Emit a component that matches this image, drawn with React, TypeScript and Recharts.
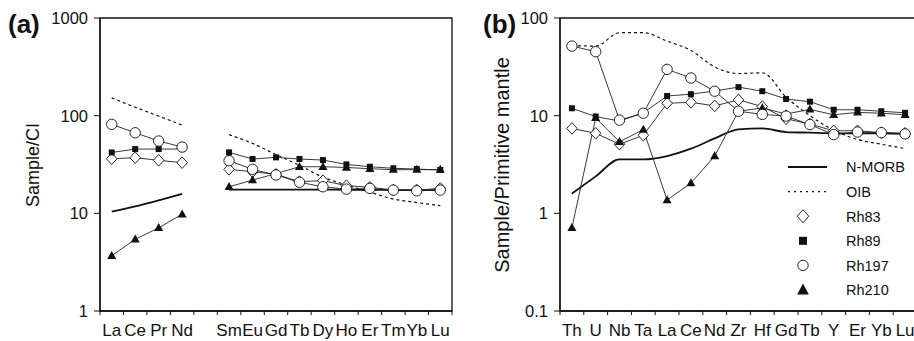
import React from "react";
import { LineChart, Line, XAxis, YAxis, ReferenceArea, Legend } from "recharts";

// (a) chondrite-normalised REE
const reeCats = ["La", "Ce", "Pr", "Nd", "", "Sm", "Eu", "Gd", "Tb", "Dy", "Ho", "Er", "Tm", "Yb", "Lu"];
const nmorbA = [10.4, 11.8, 13.6, 15.8, null, 17.5, 17.5, 17.5, 17.5, 17.5, 17.4, 17.4, 17.3, 17.3, 17.3];
const oibA = [152, 122, 99, 80, null, 64, 52, 40, 31, 23.5, 19.5, 16.5, 14, 12.9, 12.0];
const rh83A = [36.2, 37.1, 34.9, 33.0, null, 28.2, 26.7, 25.1, 21.1, 21.6, 19.2, 18.5, 17.3, 17.3, 18.0];
const rh89A = [42, 45.5, 45.5, 45.5, null, 42.1, 36, 37.4, 36, 35.1, 31.7, 30, 28.9, 28.4, 27.8];
const rh197A = [81.5, 66.8, 55, 47.7, null, 34.6, 28.2, 24.7, 20.8, 18.7, 17.7, 18.0, 17.3, 17.0, 17.3];
const rh210A = [3.68, 5.42, 7.1, 9.8, null, 18.7, 21.9, 25.5, 30, 30, 29.5, 28.6, 28, 28, 28];

// (b) primitive-mantle-normalised spider
const pmCats = ["Th", "U", "Nb", "Ta", "La", "Ce", "Nd", "Zr", "Hf", "Gd", "Tb", "Y", "Er", "Yb", "Lu"];
const nmorbB = [1.59, 2.39, 3.57, 3.57, 3.86, 4.59, 5.86, 7.24, 7.4, 6.8, 6.7, 6.6, 6.6, 6.6, 6.5];
const oibB = [52, 51.6, 70.7, 70.7, 58, 46.5, 31.5, 27, 27.5, 15.5, 10, 7.1, 5.7, 5.1, 4.6];
const rh83B = [7.4, 6.6, 5.1, 6.3, 13.4, 13.7, 12.6, 14.5, 12.4, 9.3, 8.2, 7.0, 7.0, 6.7, 6.6];
const rh89B = [11.9, 9.8, 8.8, 10.7, 15.9, 16.6, 17.9, 19.6, 17.8, 14.8, 13.9, 11.5, 11.5, 11.1, 10.7];
const rh197B = [51.6, 45.2, 9.0, 10.6, 29.8, 24.3, 17.8, 11.1, 10.3, 9.9, 8.1, 6.4, 6.8, 6.7, 6.5];
const rh210B = [0.71, 9.5, 5.4, 7.2, 1.37, 2.04, 3.86, 11.1, 12.0, 10.4, 11.6, 10.2, 10.8, 10.6, 10.2];

const yTicksA = [1, 10, 100, 1000];
const yTicksB = [0.1, 1, 10, 100];
const legendOrder = ["N-MORB", "OIB", "Rh83", "Rh89", "Rh197", "Rh210"];

const FONT = '"Liberation Sans", Arial, Helvetica, sans-serif';
const INK = "#111";

type Row = Record<string, number | null>;

function buildRows(n: number, series: Record<string, (number | null)[]>): Row[] {
  const rows: Row[] = [];
  for (let i = 0; i < n; i++) {
    const row: Row = { x: i + 0.5 };
    for (const k of Object.keys(series)) row[k] = series[k][i];
    rows.push(row);
  }
  return rows;
}

const rowsA = buildRows(reeCats.length, { nmorb: nmorbA, oib: oibA, rh83: rh83A, rh89: rh89A, rh197: rh197A, rh210: rh210A });
const rowsB = buildRows(pmCats.length, { nmorb: nmorbB, oib: oibB, rh83: rh83B, rh89: rh89B, rh197: rh197B, rh210: rh210B });

// marker shapes
function ok(p: any) {
  return p.value != null && Number.isFinite(p.cx) && Number.isFinite(p.cy);
}
function diamondPath(cx: number, cy: number, w: number, h: number) {
  return `M${cx},${cy - h}L${cx + w},${cy}L${cx},${cy + h}L${cx - w},${cy}Z`;
}
function trianglePath(cx: number, cy: number, w: number, h: number) {
  return `M${cx},${cy - h * 0.6}L${cx + w},${cy + h * 0.4}L${cx - w},${cy + h * 0.4}Z`;
}

const DiamondDot = (p: any) =>
  ok(p) ? <path key={`dia${p.index}`} d={diamondPath(p.cx, p.cy, 5.3, 5.8)} fill="#fff" stroke={INK} strokeWidth={0.9} /> : <g key={`dia${p.index}`} />;
const SquareDot = (p: any) =>
  ok(p) ? <rect key={`sq${p.index}`} x={p.cx - 3} y={p.cy - 3} width={6} height={6} fill={INK} /> : <g key={`sq${p.index}`} />;
const CircleDot = (p: any) =>
  ok(p) ? <circle key={`ci${p.index}`} cx={p.cx} cy={p.cy} r={5.2} fill="#fff" stroke={INK} strokeWidth={0.9} /> : <g key={`ci${p.index}`} />;
const TriangleDot = (p: any) =>
  ok(p) ? <path key={`tr${p.index}`} d={trianglePath(p.cx, p.cy, 4.5, 8)} fill={INK} /> : <g key={`tr${p.index}`} />;

function makeXTick(cats: string[], half: number) {
  return (props: any) => {
    const { x, y, payload } = props;
    const i = Math.round(payload.value);
    const label = i < cats.length ? cats[i] : "";
    return (
      <text x={x + half} y={y} dy={19} textAnchor="middle" fontSize={17} fill={INK} fontFamily={FONT}>
        {label}
      </text>
    );
  };
}

function PanelTitle({ title, tx, size, tag, tagX }: { title: string; tx: number; size: number; tag: string; tagX: number }) {
  return (
    <g>
      <text x={tagX} y={33} fontSize={26} fontWeight="bold" fill={INK} fontFamily={FONT}>
        {tag}
      </text>
      <text
        x={tx}
        y={165}
        transform={`rotate(-90 ${tx} 165)`}
        textAnchor="middle"
        fontSize={size}
        fill={INK}
        fontFamily={FONT}
      >
        {title}
      </text>
    </g>
  );
}

function LegendBox(props: any) {
  const names: string[] = (props.payload || []).map((p: any) => p.value);
  const items = legendOrder.filter((n) => names.includes(n));
  return (
    <svg width={140} height={150} style={{ overflow: "visible" }}>
      {items.map((n, i) => {
        const cy = 12 + i * 24.6;
        let icon: React.ReactNode = null;
        if (n === "N-MORB") icon = <line x1={8} x2={47} y1={cy} y2={cy} stroke={INK} strokeWidth={1.8} />;
        if (n === "OIB") icon = <line x1={8} x2={47} y1={cy} y2={cy} stroke={INK} strokeWidth={1.2} strokeDasharray="2 4" />;
        if (n === "Rh83") icon = <path d={diamondPath(23, cy, 5.8, 6.5)} fill="#fff" stroke={INK} strokeWidth={0.9} />;
        if (n === "Rh89") icon = <rect x={19} y={cy - 4} width={8} height={8} fill={INK} />;
        if (n === "Rh197") icon = <circle cx={23} cy={cy} r={5.2} fill="#fff" stroke={INK} strokeWidth={0.9} />;
        if (n === "Rh210") icon = <path d={trianglePath(23, cy, 5.8, 11)} fill={INK} />;
        return (
          <g key={n}>
            {icon}
            <text x={66} y={cy + 5.3} fontSize={14.5} fill={INK} fontFamily={FONT}>
              {n}
            </text>
          </g>
        );
      })}
    </svg>
  );
}

type PanelProps = {
  cats: string[];
  rows: Row[];
  yDomain: [number, number];
  yTicks: number[];
  width: number;
  right: number;
  title: string;
  titleX: number;
  titleSize: number;
  tag: string;
  tagX: number;
  legend?: boolean;
};

function Panel({ cats, rows, yDomain, yTicks, width, right, title, titleX, titleSize, tag, tagX, legend }: PanelProps) {
  const axisW = 100;
  const plotW = width - right - axisW;
  const half = plotW / cats.length / 2;
  const xTicks = Array.from({ length: cats.length + 1 }, (_, i) => i);
  const lineProps = { type: "linear" as const, stroke: "#222", strokeWidth: 0.9, activeDot: false, isAnimationActive: false };
  return (
    <LineChart width={width} height={341} data={rows} margin={{ top: 18, right, bottom: 0, left: 0 }} style={{ fontFamily: FONT }}>
      <XAxis
        dataKey="x"
        type="number"
        domain={[0, cats.length]}
        ticks={xTicks}
        interval={0}
        height={30}
        tickSize={4}
        tickMargin={2}
        stroke={INK}
        axisLine={{ stroke: INK, strokeWidth: 1.3 }}
        tick={makeXTick(cats, half)}
      />
      <YAxis
        type="number"
        scale="log"
        domain={yDomain}
        ticks={yTicks}
        allowDataOverflow
        width={axisW}
        tickSize={6}
        tickMargin={6}
        stroke={INK}
        axisLine={{ stroke: INK, strokeWidth: 1.3 }}
        tick={{ fontSize: 16.5, fill: INK, fontFamily: FONT }}
        label={<PanelTitle title={title} tx={titleX} size={titleSize} tag={tag} tagX={tagX} />}
      />
      <ReferenceArea
        x1={0}
        x2={cats.length}
        y1={yDomain[0]}
        y2={yDomain[1]}
        fill="none"
        stroke={INK}
        strokeWidth={1.3}
        ifOverflow="visible"
      />
      <Line dataKey="nmorb" name="N-MORB" type="monotone" stroke={INK} strokeWidth={1.8} dot={false} activeDot={false} isAnimationActive={false} />
      <Line dataKey="oib" name="OIB" type="monotone" stroke={INK} strokeWidth={1.2} strokeDasharray="3 3" dot={false} activeDot={false} isAnimationActive={false} />
      <Line dataKey="rh83" name="Rh83" {...lineProps} dot={DiamondDot} />
      <Line dataKey="rh89" name="Rh89" {...lineProps} dot={SquareDot} />
      <Line dataKey="rh210" name="Rh210" {...lineProps} dot={TriangleDot} />
      <Line dataKey="rh197" name="Rh197" {...lineProps} dot={CircleDot} />
      {legend && (
        <Legend
          layout="vertical"
          align="center"
          verticalAlign="middle"
          wrapperStyle={{ left: 320, top: 155, width: 140, height: 150 }}
          content={LegendBox}
        />
      )}
    </LineChart>
  );
}

export default function App() {
  return (
    <div style={{ position: "fixed", left: 0, top: 0, width: 914, height: 341, overflow: "hidden", background: "#fff" }}>
      <div style={{ position: "absolute", left: 0, top: 0 }}>
        <Panel
          cats={reeCats}
          rows={rowsA}
          yDomain={[1, 1000]}
          yTicks={yTicksA}
          width={460}
          right={8}
          title="Sample/CI"
          titleX={38.5}
          titleSize={18}
          tag="(a)"
          tagX={8}
        />
      </div>
      <div style={{ position: "absolute", left: 460, top: 0 }}>
        <Panel
          cats={pmCats}
          rows={rowsB}
          yDomain={[0.1, 100]}
          yTicks={yTicksB}
          width={462}
          right={5}
          title="Sample/Primitive mantle"
          titleX={49}
          titleSize={20}
          tag="(b)"
          tagX={23}
          legend
        />
      </div>
    </div>
  );
}
